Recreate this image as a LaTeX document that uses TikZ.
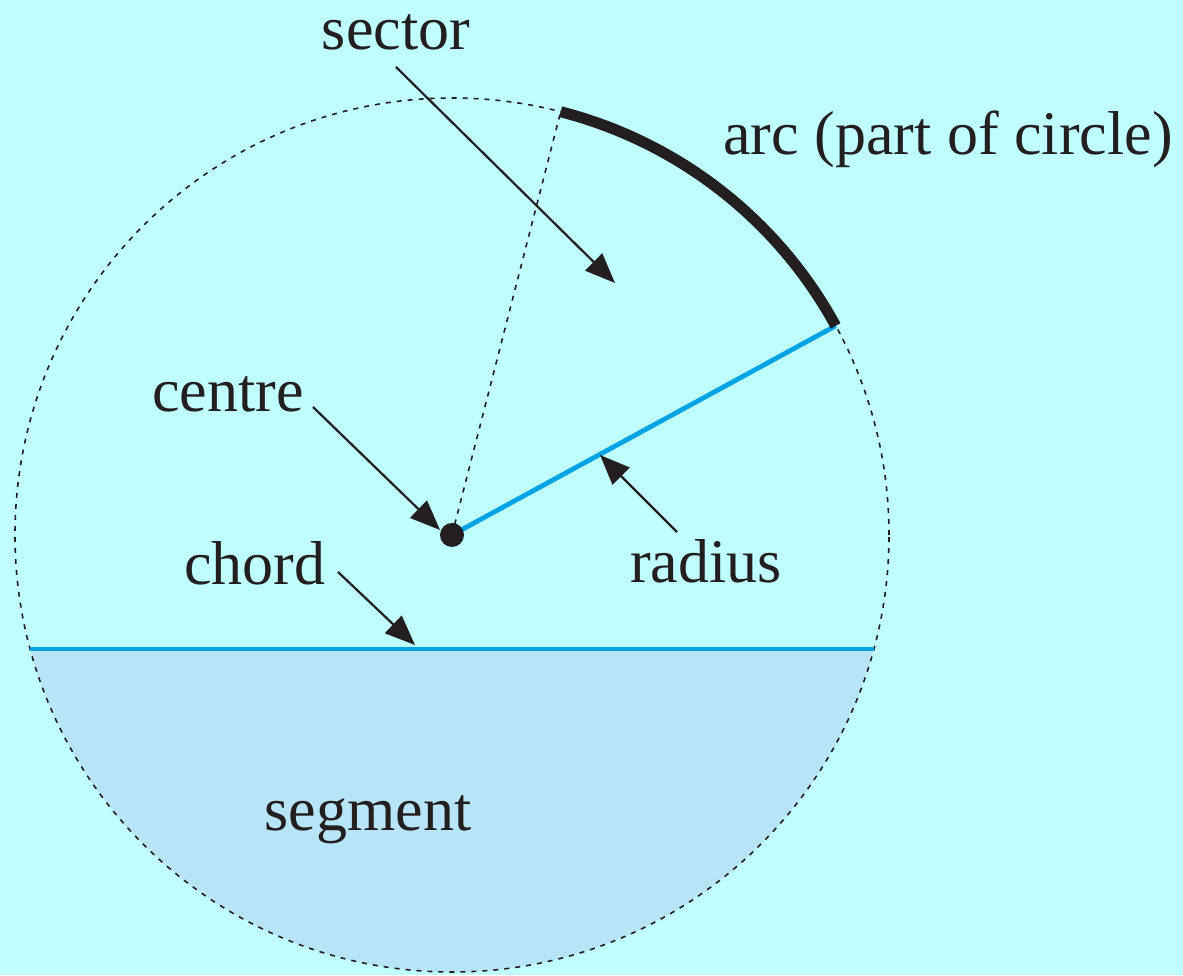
\documentclass[tikz,border=0pt]{standalone}
\usepackage{fontspec}
\setmainfont{Liberation Serif}
\usetikzlibrary{arrows.meta}
\definecolor{skybg}{RGB}{191,255,255}
\definecolor{segfill}{RGB}{184,228,248}
\definecolor{radblue}{RGB}{0,163,228}
\definecolor{inkdark}{RGB}{35,31,32}

\begin{document}
\begin{tikzpicture}[x=0.5pt,y=0.5pt,
  lbl/.style={text=inkdark,font=\fontsize{31}{37}\selectfont,inner sep=0pt,anchor=base},
  pointer/.style={draw=inkdark,line width=1.1pt,-{Triangle[length=15pt,width=12pt]}},
  rim/.style={draw=inkdark,line width=0.8pt,dash pattern=on 2.5pt off 3pt},
  blueline/.style={draw=radblue,line width=2.4pt}]
\fill[skybg] (0,0) rectangle (1183,975);
\useasboundingbox (0,0) rectangle (1183,975);
% circle and its parts
\coordinate (O) at (452,440);
\coordinate (chL) at ([shift={(O)}]195.12:437);
\coordinate (chR) at ([shift={(O)}]344.88:437);
\coordinate (arcA) at ([shift={(O)}]75.6:437);
\coordinate (arcB) at ([shift={(O)}]28.6:437);
\fill[segfill] (chL) arc[start angle=195.12,end angle=344.88,radius=437] -- cycle;
\draw[rim] (O) circle[radius=437];
\draw[rim] (O) -- (arcA);
\draw[blueline] (chL) -- (chR);
\draw[blueline] (O) -- (arcB);
\draw[draw=inkdark,line width=5.5pt] (arcA) arc[start angle=75.6,end angle=28.6,radius=437];
\fill[inkdark] (O) circle[radius=12];
% labels
\node[lbl] (sector) at (396,925) {sector};
\node[lbl] (arc) at (948,820) {arc (part of circle)};
\node[lbl] (centre) at (228,563) {centre};
\node[lbl] (chord) at (255,390) {chord};
\node[lbl] (radius) at (706,392) {radius};
\node[lbl] (segment) at (368,145) {segment};
% pointers
\coordinate (sectorTail) at (396,908);
\coordinate (sectorTip) at (615,692);
\coordinate (centreTail) at (313,568);
\coordinate (centreTip) at (440,445);
\coordinate (chordTail) at (338,403);
\coordinate (chordTip) at (415,330);
\coordinate (radiusTail) at (677,443);
\coordinate (radiusTip) at (600,520);
\draw[pointer] (sectorTail) -- (sectorTip);
\draw[pointer] (centreTail) -- (centreTip);
\draw[pointer] (chordTail) -- (chordTip);
\draw[pointer] (radiusTail) -- (radiusTip);
\end{tikzpicture}
\end{document}
